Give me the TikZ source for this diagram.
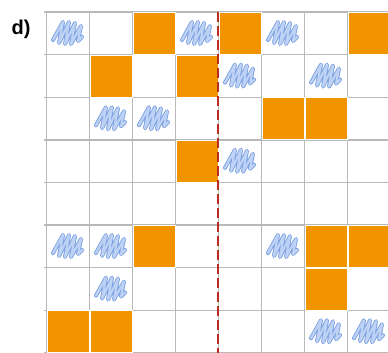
\documentclass[tikz,border=0pt]{standalone}
\usepackage{fontspec}
\setmainfont{Liberation Sans}
\definecolor{cellorange}{RGB}{242,148,0}
\definecolor{gridgray}{RGB}{185,185,185}
\definecolor{scribblue}{RGB}{125,162,225}
\definecolor{scribinner}{RGB}{190,210,245}
\definecolor{dashred}{RGB}{185,45,35}
\tikzset{
  gridline/.style={draw=gridgray, line width=1.4pt},
  orangecell/.style={fill=cellorange, draw=white, line width=0.6pt},
  scribline/.style={draw=scribblue, double=scribinner, line width=0.9pt, double distance=2.2pt, line cap=round, line join=round},
  divider/.style={draw=dashred, line width=1.8pt, dash pattern=on 10pt off 4pt},
  pics/scrib/.style={code={
    \draw[scribline] (-15,7) -- (-5,-11) -- (-9,10) -- (1,-11) -- (-3,11) -- (7,-10) -- (3,11) -- (13,-7) -- (10,8) -- (14,4);
  }}
}
\begin{document}
\begin{tikzpicture}[x=1pt,y=-1pt]
\useasboundingbox (0,0) rectangle (388,353);
\clip (0,0) rectangle (388,353);
\fill[white] (0,0) rectangle (388,353);
% grid
\foreach \i in {0,...,8}{
  \draw[gridline] ({46.5+43*\i},12) -- ({46.5+43*\i},360);
  \draw[gridline] (44,{12+42.6*\i}) -- (392,{12+42.6*\i});
}
% orange cells: (col,row)
\foreach \c/\r in {2/0,4/0,7/0, 1/1,3/1, 5/2,6/2, 3/3, 2/5,6/5,7/5, 6/6, 0/7,1/7}{
  \path[orangecell] ({46.5+43*\c+0.4},{12+42.6*\r+0.4}) rectangle ++(42.2,41.8);
}
% scribbles
\foreach \c/\r in {0/0,3/0,5/0, 4/1,6/1, 1/2,2/2, 4/3, 0/5,1/5,5/5, 1/6, 6/7,7/7}{
  \pic at ({46.5+43*\c+21.5},{12+42.6*\r+21}) {scrib};
}
% dashed divider
\coordinate (dtop) at (218,12);
\coordinate (dbot) at (218,353);
\draw[divider] (dtop) -- (dbot);
% label
\node[font=\bfseries\fontsize{20}{24}\selectfont, anchor=center] (lab) at (21,29) {d)};
\end{tikzpicture}
\end{document}
